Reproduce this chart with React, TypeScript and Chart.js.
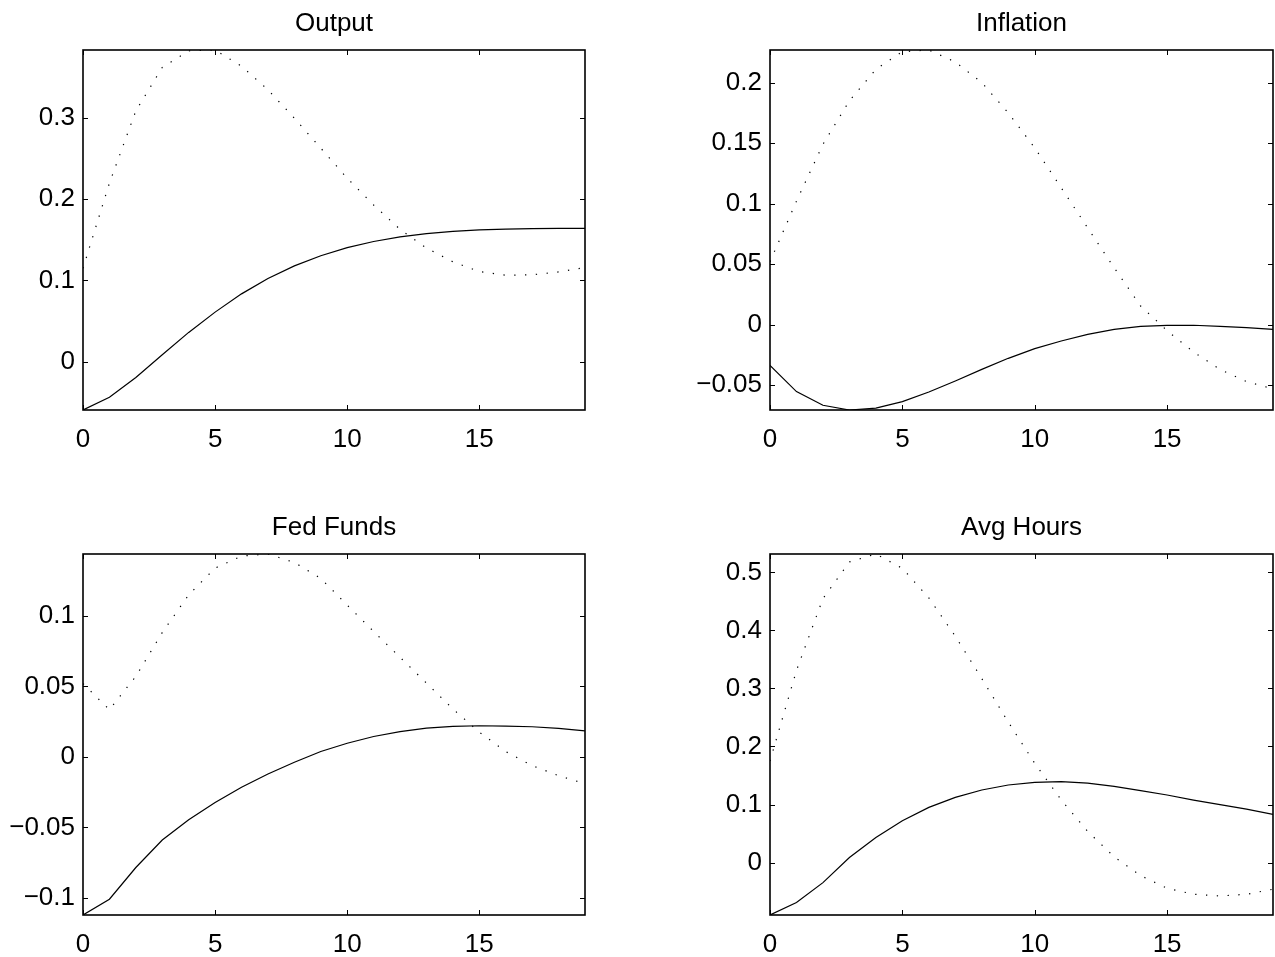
import React, { useEffect, useRef } from "react";
import { Chart, registerables } from "chart.js";

Chart.register(...registerables);

// ---------- data ----------
const horizon = [0, 1, 2, 3, 4, 5, 6, 7, 8, 9, 10, 11, 12, 13, 14, 15, 16, 17, 18, 19];
const xTicks = [0, 5, 10, 15];

const outputSolid = [-0.0596, -0.044, -0.0195, 0.0085, 0.036, 0.061, 0.0835, 0.1025, 0.118, 0.1305, 0.1405, 0.148, 0.1537, 0.1578, 0.1606, 0.1624, 0.1634, 0.1639, 0.1641, 0.1642];
const outputDotted = [0.115, 0.22, 0.309, 0.3625, 0.383, 0.384, 0.364, 0.335, 0.3, 0.263, 0.226, 0.193, 0.163, 0.14, 0.123, 0.111, 0.1065, 0.107, 0.1105, 0.116];
const outputYTicks = [0, 0.1, 0.2, 0.3];

const inflationSolid = [-0.0336, -0.0553, -0.0666, -0.0705, -0.069, -0.0636, -0.0556, -0.0465, -0.0369, -0.0278, -0.0198, -0.0135, -0.008, -0.0039, -0.0014, -0.0006, -0.0005, -0.0014, -0.0025, -0.0039];
const inflationDotted = [0.052, 0.102, 0.149, 0.185, 0.211, 0.2255, 0.2269, 0.217, 0.2, 0.175, 0.146, 0.113, 0.08, 0.047, 0.0154, -0.005, -0.0226, -0.037, -0.047, -0.053];
const inflationYTicks = [-0.05, 0, 0.05, 0.1, 0.15, 0.2];

const fedFundsSolid = [-0.1122, -0.101, -0.0785, -0.059, -0.0446, -0.0323, -0.0216, -0.0121, -0.0038, 0.0038, 0.0097, 0.0145, 0.018, 0.0204, 0.0216, 0.0221, 0.0218, 0.0214, 0.0202, 0.0185];
const fedFundsDotted = [0.052, 0.0335, 0.0572, 0.0883, 0.115, 0.134, 0.1425, 0.144, 0.138, 0.1267, 0.1077, 0.089, 0.0707, 0.0524, 0.034, 0.0176, 0.0038, -0.0062, -0.0133, -0.019];
const fedFundsYTicks = [-0.1, -0.05, 0, 0.05, 0.1];

const hoursSolid = [-0.0904, -0.069, -0.0346, 0.0086, 0.0432, 0.072, 0.095, 0.1123, 0.125, 0.1336, 0.1382, 0.1394, 0.137, 0.1313, 0.1238, 0.1164, 0.1077, 0.0997, 0.0922, 0.083];
const hoursDotted = [0.175, 0.331, 0.455, 0.518, 0.5317, 0.507, 0.456, 0.39, 0.317, 0.242, 0.171, 0.108, 0.0536, 0.0098, -0.0225, -0.0443, -0.0547, -0.0576, -0.0547, -0.046];
const hoursYTicks = [0, 0.1, 0.2, 0.3, 0.4, 0.5];

const titles = ["Output", "Inflation", "Fed Funds", "Avg Hours"];

// ---------- layout ----------
const FONT_FAMILY = '"Liberation Sans", Arial, Helvetica, sans-serif';
const FONT_SIZE = 26;

type Panel = {
  title: string;
  solid: number[];
  dotted: number[];
  yTicks: number[];
  canvasLeft: number;
  canvasTop: number;
  canvasW: number;
  canvasH: number;
  boxLeft: number;
  boxRight: number;
  boxTop: number;
  boxBottom: number;
};

const panels: Panel[] = [
  { title: titles[0], solid: outputSolid, dotted: outputDotted, yTicks: outputYTicks, canvasLeft: 0, canvasTop: 0, canvasW: 637, canvasH: 478, boxLeft: 83, boxRight: 585, boxTop: 50, boxBottom: 410 },
  { title: titles[1], solid: inflationSolid, dotted: inflationDotted, yTicks: inflationYTicks, canvasLeft: 637, canvasTop: 0, canvasW: 638, canvasH: 478, boxLeft: 133, boxRight: 636, boxTop: 50, boxBottom: 410 },
  { title: titles[2], solid: fedFundsSolid, dotted: fedFundsDotted, yTicks: fedFundsYTicks, canvasLeft: 0, canvasTop: 478, canvasW: 637, canvasH: 479, boxLeft: 83, boxRight: 585, boxTop: 76, boxBottom: 437 },
  { title: titles[3], solid: hoursSolid, dotted: hoursDotted, yTicks: hoursYTicks, canvasLeft: 637, canvasTop: 478, canvasW: 638, canvasH: 479, boxLeft: 133, boxRight: 636, boxTop: 76, boxBottom: 437 },
];

const fmt = (v: number) => String(Number(v.toFixed(4))).replace("-", "\u2212");

const framePlugin = {
  id: "matlabFrame",
  afterDraw(chart: any, _args: any, opts: any) {
    const { ctx, chartArea } = chart;
    const { left, right, top, bottom } = chartArea;
    const xs = chart.scales.x;
    const ys = chart.scales.y;
    ctx.save();
    ctx.strokeStyle = "#000";
    ctx.lineWidth = 1;
    ctx.beginPath();
    for (const t of xs.ticks) {
      const px = Math.round(xs.getPixelForValue(t.value)) + 0.5;
      ctx.moveTo(px, bottom);
      ctx.lineTo(px, bottom - 5);
      ctx.moveTo(px, top);
      ctx.lineTo(px, top + 5);
    }
    for (const t of ys.ticks) {
      const py = Math.round(ys.getPixelForValue(t.value)) + 0.5;
      ctx.moveTo(left, py);
      ctx.lineTo(left + 5, py);
      ctx.moveTo(right, py);
      ctx.lineTo(right - 5, py);
    }
    ctx.stroke();
    ctx.lineWidth = 1.6;
    ctx.strokeRect(left, top, right - left, bottom - top);
    ctx.fillStyle = "#000";
    ctx.font = `${FONT_SIZE}px ${FONT_FAMILY}`;
    ctx.textAlign = "center";
    ctx.textBaseline = "alphabetic";
    ctx.fillText(opts.text, (left + right) / 2, top - 19);
    ctx.restore();
  },
};

function PanelChart({ p }: { p: Panel }) {
  const ref = useRef<HTMLCanvasElement | null>(null);
  useEffect(() => {
    if (!ref.current) return;
    const all = [...p.solid, ...p.dotted];
    const yMin = Math.min(...all);
    const yMax = Math.max(...all);
    const xAxisH = p.canvasH - p.boxBottom;
    const chart = new Chart(ref.current, {
      type: "line",
      data: {
        datasets: [
          {
            data: p.dotted.map((y, i) => ({ x: horizon[i], y })),
            borderColor: "#000",
            borderWidth: 1.2,
            borderDash: [1.3, 9.5],
            pointRadius: 0,
            tension: 0,
            fill: false,
          },
          {
            data: p.solid.map((y, i) => ({ x: horizon[i], y })),
            borderColor: "#000",
            borderWidth: 1.2,
            pointRadius: 0,
            tension: 0,
            fill: false,
          },
        ],
      },
      options: {
        animation: false,
        responsive: false,
        devicePixelRatio: 1,
        layout: { padding: { left: 0, top: p.boxTop, right: p.canvasW - p.boxRight, bottom: 0 } },
        plugins: {
          legend: { display: false },
          title: { display: false },
          tooltip: { enabled: false },
          matlabFrame: { text: p.title },
        } as any,
        scales: {
          x: {
            type: "linear",
            min: horizon[0],
            max: horizon[horizon.length - 1],
            grid: { display: false, drawTicks: false },
            border: { display: false },
            afterBuildTicks: (scale: any) => {
              scale.ticks = xTicks.map((v) => ({ value: v }));
            },
            afterFit: (scale: any) => {
              scale.height = xAxisH;
            },
            ticks: {
              color: "#000",
              padding: 14,
              maxRotation: 0,
              autoSkip: false,
              font: { family: FONT_FAMILY, size: FONT_SIZE },
              callback: (v: any) => fmt(Number(v)),
            },
          },
          y: {
            type: "linear",
            min: yMin,
            max: yMax,
            grid: { display: false, drawTicks: false },
            border: { display: false },
            afterBuildTicks: (scale: any) => {
              scale.ticks = p.yTicks.map((v) => ({ value: v }));
            },
            afterFit: (scale: any) => {
              scale.width = p.boxLeft;
            },
            ticks: {
              color: "#000",
              padding: 8,
              autoSkip: false,
              font: { family: FONT_FAMILY, size: FONT_SIZE },
              callback: (v: any) => fmt(Number(v)),
            },
          },
        },
      },
      plugins: [framePlugin],
    });
    return () => chart.destroy();
  }, [p]);
  return (
    <canvas
      ref={ref}
      width={p.canvasW}
      height={p.canvasH}
      style={{ position: "absolute", left: p.canvasLeft, top: p.canvasTop, width: p.canvasW, height: p.canvasH }}
    />
  );
}

export default function App() {
  return (
    <div style={{ position: "absolute", left: 0, top: 0, width: 1275, height: 957, background: "#fff", overflow: "hidden" }}>
      {panels.map((p) => (
        <PanelChart key={p.title} p={p} />
      ))}
    </div>
  );
}
